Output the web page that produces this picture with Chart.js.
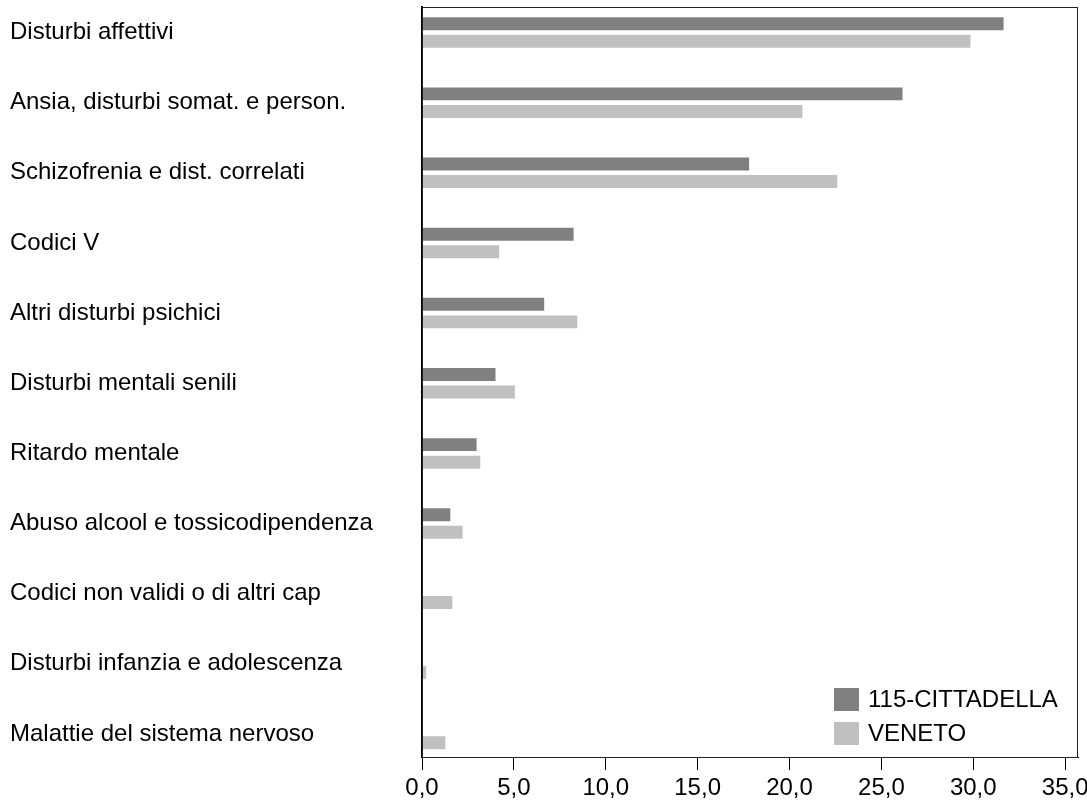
<!DOCTYPE html>
<html>
<head>
<meta charset="utf-8">
<script src="https://cdn.jsdelivr.net/npm/chart.js@4/dist/chart.umd.min.js"></script>
<style>
  body { margin: 0; background: #fff; }
  #wrap { width: 1087px; height: 805px; }
</style>
</head>
<body>
<div id="wrap"><canvas id="myChart"></canvas></div>
<script>
// categorie (dall'alto in basso)
var categories = [
  "Disturbi affettivi",
  "Ansia, disturbi somat. e person.",
  "Schizofrenia e dist. correlati",
  "Codici V",
  "Altri disturbi psichici",
  "Disturbi mentali senili",
  "Ritardo mentale",
  "Abuso alcool e tossicodipendenza",
  "Codici non validi o di altri cap",
  "Disturbi infanzia e adolescenza",
  "Malattie del sistema nervoso"
];

// valori (%)
var cittadella = [31.65, 26.15, 17.8, 8.25, 6.65, 4.0, 2.97, 1.54, 0, 0, 0];
var veneto = [29.85, 20.7, 22.6, 4.2, 8.45, 5.05, 3.17, 2.21, 1.65, 0.23, 1.27];

var seriesNames = ["115-CITTADELLA", "VENETO"];
var xTicks = [0, 5, 10, 15, 20, 25, 30, 35];

var FONT = { family: "'Liberation Sans', Arial, sans-serif", size: 24 };

function toPoints(values) {
  return values.map(function(v, i) { return { x: v, y: i }; });
}

// cornice e legenda dentro l'area del grafico
const boxAndLegend = {
  id: 'boxAndLegend',
  afterDraw: function(chart) {
    const ctx = chart.ctx;
    const a = chart.chartArea;
    ctx.save();
    ctx.strokeStyle = '#222';
    ctx.lineWidth = 1;
    ctx.strokeRect(a.left + 0.5, a.top + 0.5, a.right - a.left - 1, a.bottom - a.top);

    ctx.font = FONT.size + 'px ' + FONT.family;
    ctx.textBaseline = 'middle';
    ctx.textAlign = 'left';
    chart.data.datasets.forEach(function(ds, i) {
      const bx = a.right - 244;
      const by = a.bottom - 69 + i * 34;
      ctx.fillStyle = ds.backgroundColor;
      ctx.fillRect(bx, by, 25, 23);
      ctx.fillStyle = '#000';
      ctx.fillText(ds.label, bx + 34, by + 12);
    });
    ctx.restore();
  }
};

const ctx = document.getElementById('myChart').getContext('2d');

const config = {
  type: 'bar',
  data: {
    datasets: [{
      label: seriesNames[0],
      data: toPoints(cittadella),
      backgroundColor: '#808080',
      categoryPercentage: 0.5,
      barPercentage: 0.74
    }, {
      label: seriesNames[1],
      data: toPoints(veneto),
      backgroundColor: '#c0c0c0',
      categoryPercentage: 0.5,
      barPercentage: 0.74
    }]
  },
  options: {
    indexAxis: 'y',
    responsive: true,
    maintainAspectRatio: false,
    animation: false,
    layout: { padding: { left: 10, right: 9, top: 7, bottom: 0 } },
    plugins: {
      legend: { display: false },
      tooltip: { enabled: false }
    },
    scales: {
      x: {
        type: 'linear',
        min: 0,
        max: 35.7,
        afterBuildTicks: function(scale) {
          scale.ticks = xTicks.map(function(v) { return { value: v }; });
        },
        afterFit: function(scale) {
          scale.height = 48;
          scale.paddingLeft = 0;
          scale.paddingRight = 0;
        },
        grid: {
          drawOnChartArea: false,
          drawTicks: true,
          tickLength: 13,
          color: '#000',
          lineWidth: 1
        },
        border: { display: true, color: '#000', width: 1 },
        ticks: {
          color: '#000',
          font: FONT,
          padding: 4,
          maxRotation: 0,
          callback: function(v) { return v.toFixed(1).replace('.', ','); }
        }
      },
      y: {
        type: 'linear',
        offset: false,
        reverse: true,
        min: -0.3635,
        max: 10.328,
        afterBuildTicks: function(scale) {
          scale.ticks = categories.map(function(c, i) { return { value: i }; });
        },
        afterFit: function(scale) {
          scale.width = 412;
          scale.paddingTop = 0;
          scale.paddingBottom = 0;
        },
        grid: { display: false, offset: false },
        border: { display: true, color: '#000', width: 2 },
        ticks: {
          color: '#000',
          font: FONT,
          crossAlign: 'far',
          autoSkip: false,
          callback: function(v) { return categories[v]; }
        }
      }
    }
  },
  plugins: [boxAndLegend]
};

const chart = new Chart(ctx, config);
</script>
</body>
</html>
